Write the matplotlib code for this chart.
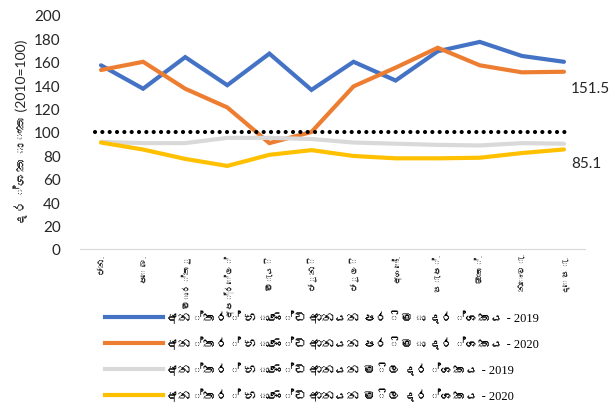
import matplotlib
matplotlib.use("Agg")
import matplotlib.pyplot as plt
from matplotlib import font_manager as fm
from matplotlib.lines import Line2D

# ---- data ----
months = ["ජන.", "පෙබ.", "මාර්තු", "අප්‍රේල්", "මැයි", "ජූනි", "ජූලි", "අගෝ.", "සැප්.", "ඔක්.", "නොවැ.", "දෙසැ."]
vol_2019 = [157, 137, 164, 140, 167, 136, 160, 144, 169, 177, 165, 160]
vol_2020 = [153, 160, 137, 121, 90.5, 100, 139, 155, 172, 157, 151, 151.5]
price_2019 = [91.5, 90.5, 90.5, 95, 95, 94, 91, 90, 89, 88.5, 90.5, 90]
price_2020 = [91, 85, 77, 71, 80.5, 84.5, 79.5, 77.5, 77.5, 78, 82, 85.1]
baseline = 100
series_names = [
    "අන්තර් භාණ්ඩ ආනයන පරිමා දර්ශකය - 2019",
    "අන්තර් භාණ්ඩ ආනයන පරිමා දර්ශකය - 2020",
    "අන්තර් භාණ්ඩ ආනයන මිල දර්ශකය - 2019",
    "අන්තර් භාණ්ඩ ආනයන මිල දර්ශකය - 2020",
]
ylabel = "දර්ශකාංක (2010=100)"
yticks = [0, 20, 40, 60, 80, 100, 120, 140, 160, 180, 200]

# ---- find a font with Sinhala glyphs, if any ----
sinhala_fonts = []
try:
    from fontTools.ttLib import TTFont
    for f in fm.findSystemFonts():
        try:
            tt = TTFont(f, fontNumber=0, lazy=True)
            cmap = tt.getBestCmap()
            if cmap and 0x0D9A in cmap:
                sinhala_fonts.append(fm.FontProperties(fname=f).get_name())
        except Exception:
            pass
except Exception:
    pass

sans = ["Lato"] + sinhala_fonts[:1] + ["DejaVu Sans"]
serif = ["Liberation Serif"] + sinhala_fonts[:1] + ["DejaVu Sans"]
plt.rcParams["font.family"] = sans

colors = ["#4472C4", "#ED7D31", "#D9D9D9", "#FFC000"]
txt = "#262626"

fig = plt.figure(figsize=(6.14, 4.14), dpi=100)
ax = fig.add_axes([80 / 614, 1 - 250 / 414, 505 / 614, 234 / 414])

x = list(range(len(months)))
for vals, c in zip([vol_2019, vol_2020, price_2019, price_2020], colors):
    ax.plot(x, vals, color=c, lw=3, solid_capstyle="round", solid_joinstyle="miter")
ax.plot([-0.5 + 0.35, 11.5 - 0.35], [baseline, baseline], color="black", lw=3,
        linestyle=(0, (0.01, 1.75)), dash_capstyle="round")

ax.set_xlim(-0.5, 11.5)
ax.set_ylim(0, 200)
ax.set_yticks(yticks)
ax.set_yticklabels([str(v) for v in yticks], fontsize=11, color=txt)
ax.set_xticks(x)
ax.set_xticklabels(months, rotation=90, fontsize=6.5, color=txt, va="top")
ax.tick_params(axis="both", length=0)
ax.tick_params(axis="y", pad=14)
ax.tick_params(axis="x", pad=3)
for s in ["top", "right", "left"]:
    ax.spines[s].set_visible(False)
ax.spines["bottom"].set_color("#D9D9D9")
ax.set_ylabel(ylabel, fontsize=10, color=txt, labelpad=4)

ax.annotate(f"{vol_2020[-1]}", xy=(11, vol_2020[-1]), xytext=(5, -12),
            textcoords="offset points", fontsize=11, color=txt, ha="left", va="center")
ax.annotate(f"{price_2020[-1]}", xy=(11, price_2020[-1]), xytext=(5, -10),
            textcoords="offset points", fontsize=11, color=txt, ha="left", va="center")

handles = [Line2D([], [], color=c, lw=3) for c in colors]
leg = fig.legend(handles, series_names, loc="upper left", bbox_to_anchor=(100 / 614, 1 - 307 / 414),
                 frameon=False, prop=fm.FontProperties(family=serif, size=9),
                 handlelength=4.6, handletextpad=0.3, labelspacing=1.0, borderaxespad=0)
for t in leg.get_texts():
    t.set_color("black")

fig.savefig("out.png", dpi=100)
